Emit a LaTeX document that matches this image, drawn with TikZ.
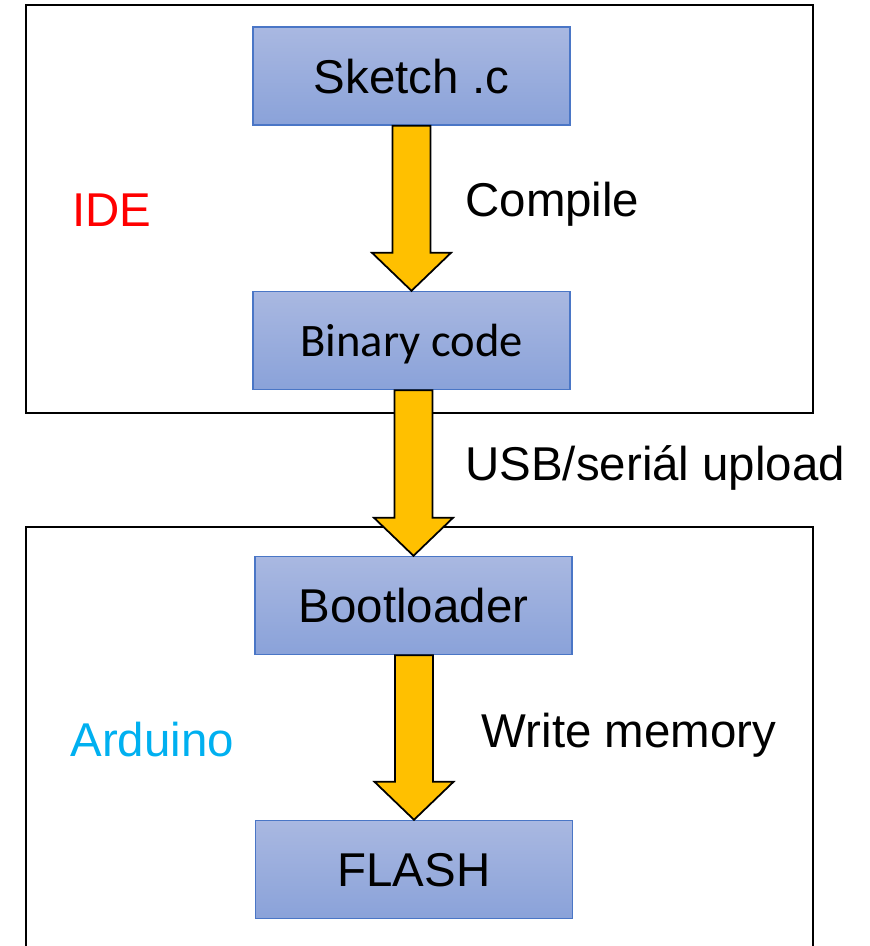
\documentclass[tikz,border=0pt]{standalone}
\usepackage{fontspec}
\setmainfont{Liberation Sans}
\newfontfamily\calibri{Carlito}
\usepackage{xcolor}
\usetikzlibrary{calc}
\definecolor{bleuhaut}{HTML}{A9B8E1}
\definecolor{bleubas}{HTML}{8AA2D9}
\definecolor{bleubord}{HTML}{4A76C6}
\definecolor{jaune}{HTML}{FFC000}
\definecolor{cyanard}{HTML}{00B0F0}
% big yellow arrow between two blocks
\newcommand{\grossefleche}[2]{%
  \draw[fleche] ($(#1.south -| #2.north)+(-0.38,0)$) -- ($(#2.north)+(-0.38,0.76)$)
    -- ($(#2.north)+(-0.79,0.76)$) -- (#2.north) -- ($(#2.north)+(0.79,0.76)$)
    -- ($(#2.north)+(0.38,0.76)$) -- ($(#1.south -| #2.north)+(0.38,0)$) -- cycle;}

\begin{document}
\begin{tikzpicture}
        \useasboundingbox (0,0) rectangle (17.38,-18.92);
        \tikzset{bloc/.style={draw=bleubord,line width=0.8pt,top color=bleuhaut,bottom color=bleubas,
                 minimum width=6.34cm,minimum height=1.96cm,inner sep=0pt,text depth=0pt,
                 font=\fontsize{27}{32}\selectfont},
                 fleche/.style={draw=black,fill=jaune,line width=1pt,line join=miter},
                 etiq/.style={inner sep=0pt,anchor=base west,font=\fontsize{27}{32}\selectfont},
                 cadre/.style={draw=black,line width=1.1pt}}
        % frames
        \draw[cadre] (0.52,-0.10) rectangle (16.26,-8.26);
        \draw[cadre] (0.52,-18.92) -- (0.52,-10.54) -- (16.26,-10.54) -- (16.26,-18.92);
        % blocks
        \node[bloc] (SC) at (8.23,-1.52) {Sketch .c};
        \node[bloc,font=\calibri\fontsize{26.5}{31}\selectfont] (BC) at (8.23,-6.81) {Binary code};
        \node[bloc] (BL) at (8.27,-12.11) {Bootloader};
        \node[bloc] (FL) at (8.28,-17.39) {FLASH};
        % arrows
        \grossefleche{SC}{BC}
        \grossefleche{BC}{BL}
        \grossefleche{BL}{FL}
        % labels
        \node[etiq] (CP) at (9.30,-4.34) {Compile};
        \node[etiq] (US) at (9.30,-9.60) {USB/seriál upload};
        \node[etiq] (WM) at (9.63,-14.94) {Write memory};
        \node[etiq,text=red] (IDE) at (1.44,-4.54) {IDE};
        \node[etiq,text=cyanard] (AR) at (1.40,-15.12) {Arduino};
\end{tikzpicture}
\end{document}
